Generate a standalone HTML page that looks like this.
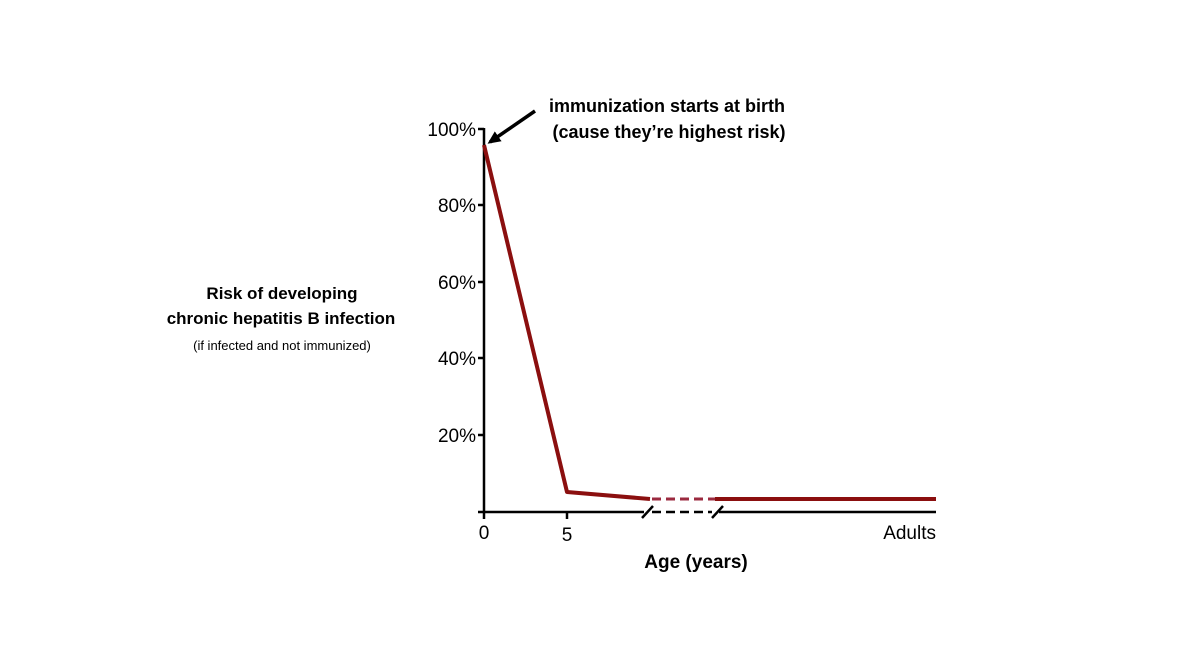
<!DOCTYPE html>
<html><head><style>
body{margin:0;background:#fff;width:1200px;height:659px;overflow:hidden;font-family:"Liberation Sans",sans-serif}
</style></head><body>
<svg width="1200" height="659" viewBox="0 0 1200 659" xmlns="http://www.w3.org/2000/svg" font-family="Liberation Sans, sans-serif">
<defs><marker id="ah" markerWidth="14" markerHeight="12" refX="10" refY="6" orient="auto" markerUnits="userSpaceOnUse"><path d="M0,0 L13,6 L0,12 z" fill="#000"/></marker></defs>
<g stroke="#000" stroke-width="2.5" fill="none">
<line x1="484" y1="128" x2="484" y2="513"/>
<line x1="478" y1="129" x2="484" y2="129"/>
<line x1="478" y1="205" x2="484" y2="205"/>
<line x1="478" y1="282" x2="484" y2="282"/>
<line x1="478" y1="358" x2="484" y2="358"/>
<line x1="478" y1="435" x2="484" y2="435"/>
<line x1="478" y1="512" x2="644" y2="512"/>
<line x1="652" y1="512" x2="712" y2="512" stroke-dasharray="9,5"/>
<line x1="719" y1="512" x2="936" y2="512"/>
<line x1="642" y1="518" x2="653" y2="506"/>
<line x1="712" y1="518" x2="723" y2="506"/>
<line x1="484" y1="512" x2="484" y2="519"/>
<line x1="567" y1="512" x2="567" y2="519"/>
<line x1="535" y1="111" x2="490" y2="142" stroke-width="3.5" marker-end="url(#ah)"/>
</g>
<g stroke="#8b0f0f" stroke-width="4" fill="none" stroke-linejoin="round">
<polyline points="484,145 567,492 650,499"/>
<line x1="652" y1="499" x2="715" y2="499" stroke-dasharray="9,5" stroke="#9b2a3f" stroke-width="3"/>
<line x1="715" y1="499" x2="936" y2="499"/>
</g>
<g font-size="19" fill="#000" text-anchor="end">
<text x="476" y="136">100%</text>
<text x="476" y="212">80%</text>
<text x="476" y="289">60%</text>
<text x="476" y="365">40%</text>
<text x="476" y="442">20%</text>
<text x="936" y="539">Adults</text>
</g>
<g font-size="19" fill="#000" text-anchor="middle">
<text x="484" y="539">0</text>
<text x="567" y="541">5</text>
<text x="696" y="568" font-weight="bold">Age (years)</text>
<text x="667" y="112" font-weight="bold" font-size="18">immunization starts at birth</text>
<text x="669" y="138" font-weight="bold" font-size="18">(cause they’re highest risk)</text>
<text x="282" y="299" font-weight="bold" font-size="17">Risk of developing</text>
<text x="281" y="324" font-weight="bold" font-size="17">chronic hepatitis B infection</text>
<text x="282" y="350" font-size="13">(if infected and not immunized)</text>
</g>
</svg>
</body></html>
